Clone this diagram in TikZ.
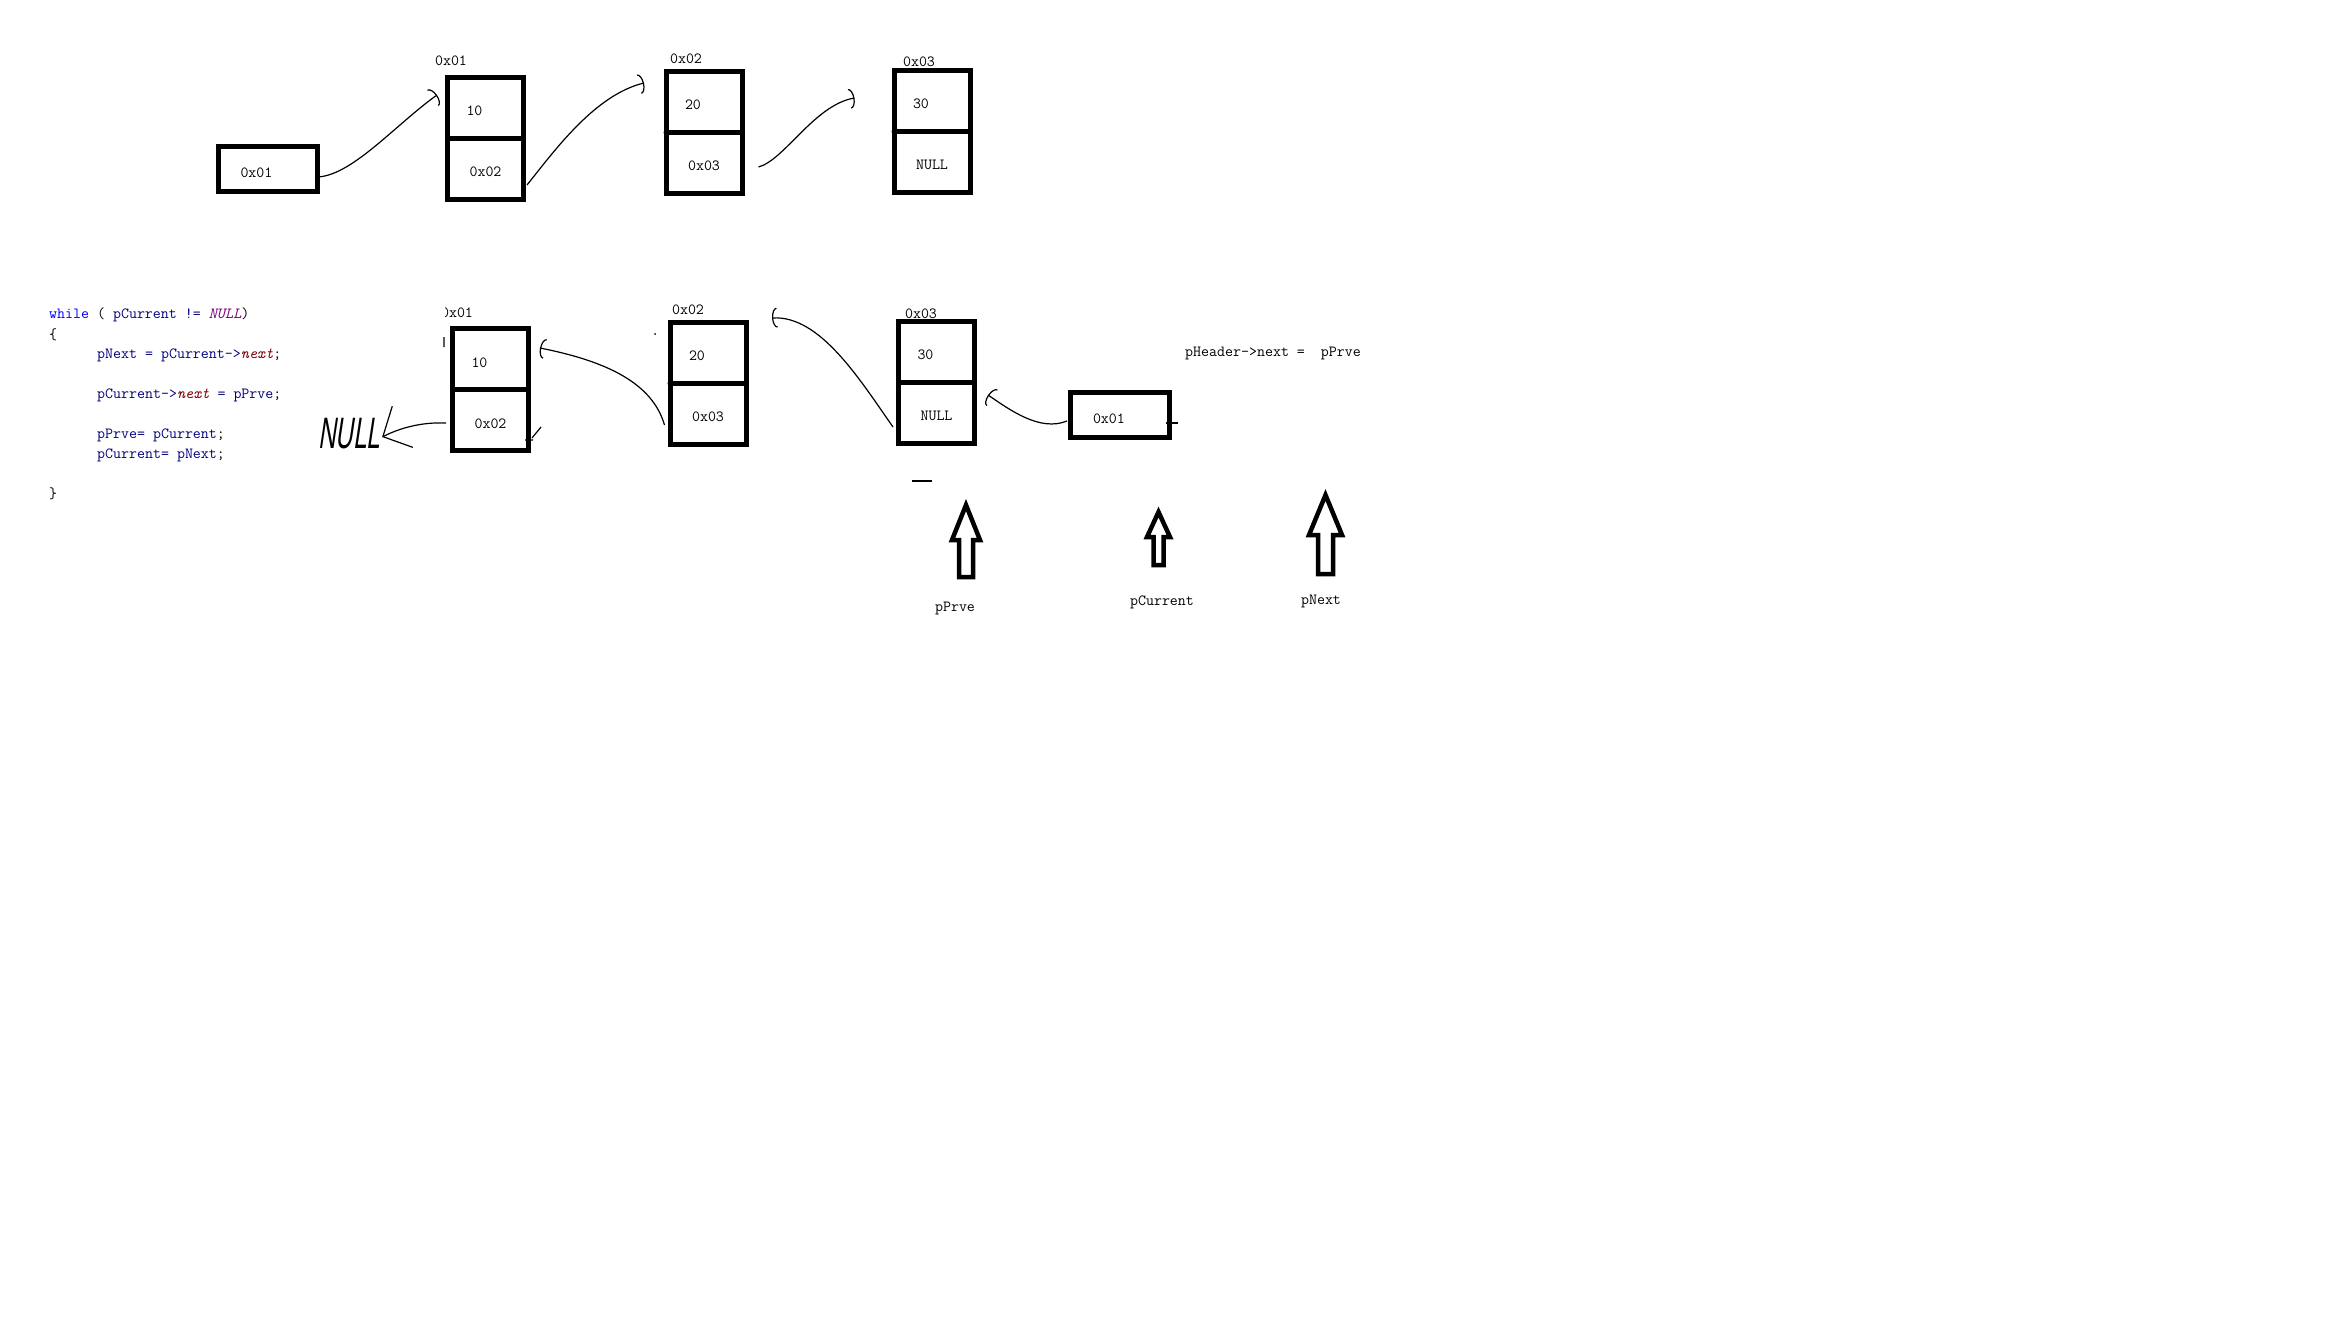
\documentclass[tikz,border=0pt]{standalone}
\usepackage{fontspec}
\usetikzlibrary{arrows.meta}
\newfontfamily\handfont[FakeStretch=0.55,FakeSlant=0.15]{Liberation Sans}
\newcommand\codefont{\ttfamily\fontsize{15.5}{18}\selectfont}
\definecolor{kwblue}{RGB}{0,0,255}
\definecolor{varnavy}{RGB}{0,0,128}
\definecolor{nullpurple}{RGB}{128,0,128}
\definecolor{fieldred}{RGB}{128,0,0}
\tikzset{
    cell/.style={draw, line width=5pt, outer sep=0pt, inner sep=0pt, minimum width=76pt, minimum height=61pt, text height=16pt, text depth=0pt, font=\codefont},
    valcell/.style={cell, text width=38pt, align=left},
    headbox/.style={draw, line width=5pt, outer sep=0pt, inner sep=0pt, minimum width=99pt, minimum height=45pt, text height=16pt, text depth=0pt, text width=54pt, align=left, font=\codefont},
    txt/.style={font=\codefont, inner sep=0pt},
    hand/.style={line width=1.2pt, -{Arc Barb[length=5pt, width=20pt]}},
    ptr/.style={line width=4.5pt, line join=miter},
}
\begin{document}
\begin{tikzpicture}[x=1pt, y=-1pt]
    \path[fill=white] (0, 0) rectangle (2336, 1324);
    \node[headbox] (head) at (267.5, 169.5) {0x01};
    \foreach \i/\x/\y/\val/\nxt/\addr/\lx/\ly in {1/485.5/108/10/0x02/0x01/451/61, 2/704/102/20/0x03/0x02/686/59, 3/932/101/30/NULL/0x03/919/62} {
        \node[valcell] (t\i a) at (\x, \y) {\val};
        \node[cell, anchor=north] (t\i b) at (t\i a.south) {\nxt};
        \draw[line width=5pt, line cap=round] (t\i a.south west) -- (t\i a.south east);
        \node[txt] (ta\i) at (\lx, \ly) {\addr};
    }
    \draw[hand] ([xshift=-2pt, yshift=-7.5pt]head.east) .. controls +(35, 1) and +(-42, 30) .. ([xshift=-10.5pt, yshift=13pt]t1a.west);
    \draw[hand] ([xshift=3.5pt, yshift=-16pt]t1b.east) .. controls +(28, -35) and +(-49, 12) .. ([xshift=-22pt, yshift=19pt]t2a.west);
    \draw[hand] ([xshift=16.5pt, yshift=-4pt]t2b.east) .. controls +(26, -7) and +(-40, 7) .. ([xshift=-39.5pt, yshift=3pt]t3a.west);

    \foreach \i/\x/\y/\val/\nxt/\addr/\lx/\ly in {1/490.5/359/10/0x02/0x01/457/313, 2/708/352.5/20/0x03/0x02/688/310, 3/936.5/351.5/30/NULL/0x03/921/314} {
        \node[valcell] (b\i a) at (\x, \y) {\val};
        \node[cell, anchor=north] (b\i b) at (b\i a.south) {\nxt};
        \draw[line width=5pt, line cap=round] (b\i a.south west) -- (b\i a.south east);
        \node[txt] (ba\i) at (\lx, \ly) {\addr};
    }
    \fill[white] (437, 300) rectangle (445, 324);
    \node[headbox] (headb) at (1120, 415) {0x01};
    \node[inner sep=0pt, font=\handfont\fontsize{44}{44}\selectfont] (hnull) at (349, 434) {NULL};
    \draw[hand] ([xshift=-5.5pt, yshift=-11.5pt]b2b.west) .. controls +(-13, -45) and +(60, 12) .. ([xshift=11.5pt, yshift=11pt]b1a.east);
    \draw[hand] ([xshift=-5.5pt, yshift=-14.5pt]b3b.west) .. controls +(-33, -47) and +(48, -3) .. ([xshift=26pt, yshift=34.5pt]b2a.east);
    \draw[hand] ([xshift=-3.5pt, yshift=-6pt]headb.west) .. controls +(-27, 11) and +(22, 15) .. ([xshift=13.5pt, yshift=17.5pt]b3b.east);
    \draw[line width=1.2pt, -{Straight Barb[length=22pt, width=46pt]}] ([xshift=-6.5pt, yshift=-3pt]b1b.west) .. controls +(-25, -1) and +(18, -9) .. ([xshift=2pt, yshift=-3pt]hnull.east);

    \draw[line width=2.5pt] (912, 481) -- (932, 481);
    \draw[line width=1.2pt] (444, 337) -- (444, 347) (541, 427) -- (532, 438) (525, 440) -- (533, 440);
    \draw[line width=1.2pt] (1166, 423) -- (1178, 423) (1170, 417) -- (1170, 423);
    \fill (655, 334) circle (1pt);

    \node[txt, anchor=west] (code1) at (49, 315) {\color{kwblue}while\ \color{black}(\ \color{varnavy}pCurrent\ !=\ \color{nullpurple}\itshape NULL\upshape\color{black})};
    \node[txt, anchor=west] (code2) at (49, 335) {\{};
    \node[txt, anchor=west] (code3) at (97, 355) {\color{varnavy}pNext\ =\ pCurrent->\color{fieldred}\itshape next\upshape\color{black};};
    \node[txt, anchor=west] (code4) at (97, 395) {\color{varnavy}pCurrent->\color{fieldred}\itshape next\upshape\color{varnavy}\ =\ pPrve\color{black};};
    \node[txt, anchor=west] (code5) at (97, 435) {\color{varnavy}pPrve=\ pCurrent\color{black};};
    \node[txt, anchor=west] (code6) at (97, 455) {\color{varnavy}pCurrent=\ pNext\color{black};};
    \node[txt, anchor=west] (code7) at (49, 494) {\}};
    \node[txt, anchor=west] (hdr) at (1185, 353) {pHeader->next\ =\ \ pPrve};

    \foreach \x/\tip/\base/\hw/\sw/\bot/\lx/\ly/\name in {966/505/540/14/7/577/955/608/pPrve, 1158.5/512/537/11.5/5/565/1162/602/pCurrent, 1325.5/495/535/16.5/7.5/574/1321/601/pNext} {
        \draw[ptr] (\x, \tip) -- (\x+\hw, \base) -- (\x+\sw, \base) -- (\x+\sw, \bot) -- (\x-\sw, \bot) -- (\x-\sw, \base) -- (\x-\hw, \base) -- cycle;
        \node[txt] (lbl\name) at (\lx, \ly) {\name};
    }
\end{tikzpicture}
\end{document}
